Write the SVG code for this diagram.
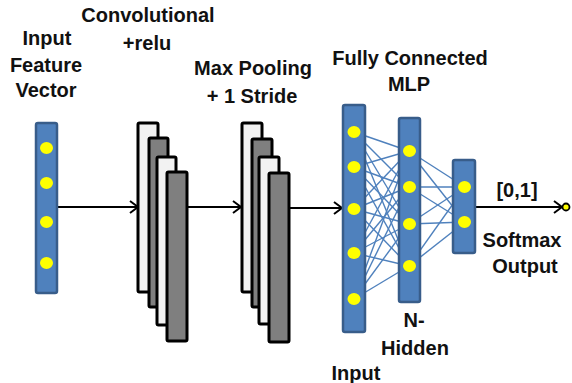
<svg xmlns="http://www.w3.org/2000/svg" width="572" height="383" viewBox="0 0 572 383">
<defs>
<style>
.t{font-family:"Liberation Sans",Arial,sans-serif;font-weight:bold;font-size:20px;fill:#111;text-anchor:middle}
.lt{fill:#f2f2f2;stroke:#000;stroke-width:3}
.dk{fill:#7f7f7f;stroke:#000;stroke-width:3}
.bar{fill:#4f81bd;stroke:#385d8a;stroke-width:2.5}
.dot{fill:#ffff00}
.w{stroke:#4f81bd;stroke-width:1.4;fill:none}
.ar{stroke:#000;stroke-width:2;fill:none}
</style>
<marker id="ah" markerUnits="userSpaceOnUse" markerWidth="14" markerHeight="16" refX="10" refY="8" orient="auto">
<path d="M2,2 L10,8 L2,14" fill="none" stroke="#000" stroke-width="2"/>
</marker>
</defs>
<rect width="572" height="383" fill="#fff"/>

<g id="labels">
<text class="t" x="47" y="45">Input</text>
<text class="t" x="46" y="72">Feature</text>
<text class="t" x="46" y="97">Vector</text>
<text class="t" x="148" y="22">Convolutional</text>
<text class="t" x="147" y="50">+relu</text>
<text class="t" x="253" y="75">Max Pooling</text>
<text class="t" x="252" y="103">+ 1 Stride</text>
<text class="t" x="410" y="65">Fully Connected</text>
<text class="t" x="409" y="91">MLP</text>
<text class="t" x="414" y="327">N-</text>
<text class="t" x="415" y="355">Hidden</text>
<text class="t" x="356" y="380">Input</text>
<text class="t" x="517" y="197">[0,1]</text>
<text class="t" x="522" y="247">Softmax</text>
<text class="t" x="525" y="273">Output</text>
</g>

<g id="connectors">
<line class="ar" x1="57" y1="207" x2="138" y2="207" marker-end="url(#ah)"/>
<line class="ar" x1="188" y1="207" x2="241" y2="207" marker-end="url(#ah)"/>
<line class="ar" x1="290" y1="208" x2="342" y2="208" marker-end="url(#ah)"/>
<line class="ar" x1="476" y1="207" x2="562" y2="207" marker-end="url(#ah)"/>
<g id="weights1">
<line class="w" x1="354" y1="132" x2="409" y2="151"/><line class="w" x1="354" y1="132" x2="409" y2="187"/><line class="w" x1="354" y1="132" x2="409" y2="224"/><line class="w" x1="354" y1="132" x2="409" y2="266"/>
<line class="w" x1="354" y1="167" x2="409" y2="151"/><line class="w" x1="354" y1="167" x2="409" y2="187"/><line class="w" x1="354" y1="167" x2="409" y2="224"/><line class="w" x1="354" y1="167" x2="409" y2="266"/>
<line class="w" x1="354" y1="209" x2="409" y2="151"/><line class="w" x1="354" y1="209" x2="409" y2="187"/><line class="w" x1="354" y1="209" x2="409" y2="224"/><line class="w" x1="354" y1="209" x2="409" y2="266"/>
<line class="w" x1="354" y1="253" x2="409" y2="151"/><line class="w" x1="354" y1="253" x2="409" y2="187"/><line class="w" x1="354" y1="253" x2="409" y2="224"/><line class="w" x1="354" y1="253" x2="409" y2="266"/>
<line class="w" x1="354" y1="299" x2="409" y2="151"/><line class="w" x1="354" y1="299" x2="409" y2="187"/><line class="w" x1="354" y1="299" x2="409" y2="224"/><line class="w" x1="354" y1="299" x2="409" y2="266"/>
</g>
<g id="weights2">
<line class="w" x1="409" y1="151" x2="465" y2="187"/><line class="w" x1="409" y1="151" x2="465" y2="222"/>
<line class="w" x1="409" y1="187" x2="465" y2="187"/><line class="w" x1="409" y1="187" x2="465" y2="222"/>
<line class="w" x1="409" y1="224" x2="465" y2="187"/><line class="w" x1="409" y1="224" x2="465" y2="222"/>
<line class="w" x1="409" y1="266" x2="465" y2="187"/><line class="w" x1="409" y1="266" x2="465" y2="222"/>
</g>
</g>

<g id="input-vector">
<rect class="bar" x="36" y="123" width="21" height="170" rx="2"/>
<ellipse class="dot" cx="46.5" cy="148" rx="6.5" ry="6"/>
<ellipse class="dot" cx="46.5" cy="183" rx="6.5" ry="6"/>
<ellipse class="dot" cx="46.5" cy="222" rx="6.5" ry="6"/>
<ellipse class="dot" cx="46.5" cy="263" rx="6.5" ry="6"/>
</g>

<g id="conv">
<rect class="lt" x="138" y="123" width="20" height="169" rx="1.5"/>
<rect class="dk" x="149" y="138" width="19" height="169" rx="1.5"/>
<rect class="lt" x="157" y="157" width="19" height="168" rx="1.5"/>
<rect class="dk" x="167" y="172" width="20" height="169" rx="1.5"/>
</g>

<g id="pool">
<rect class="lt" x="242" y="123" width="20" height="169" rx="1.5"/>
<rect class="dk" x="252" y="139" width="20" height="168" rx="1.5"/>
<rect class="lt" x="259" y="157" width="20" height="167" rx="1.5"/>
<rect class="dk" x="269" y="173" width="20" height="169" rx="1.5"/>
</g>

<g id="mlp-input">
<rect class="bar" x="343" y="105" width="22" height="227" rx="2"/>
<ellipse class="dot" cx="354" cy="132" rx="6.5" ry="6"/>
<ellipse class="dot" cx="354" cy="167" rx="6.5" ry="6"/>
<ellipse class="dot" cx="354" cy="209" rx="6.5" ry="6"/>
<ellipse class="dot" cx="354" cy="253" rx="6.5" ry="6"/>
<ellipse class="dot" cx="354" cy="299" rx="6.5" ry="6"/>
</g>

<g id="mlp-hidden">
<rect class="bar" x="399" y="118" width="21" height="184" rx="2"/>
<ellipse class="dot" cx="409.5" cy="151" rx="6.5" ry="6"/>
<ellipse class="dot" cx="409.5" cy="187" rx="6.5" ry="6"/>
<ellipse class="dot" cx="409.5" cy="224" rx="6.5" ry="6"/>
<ellipse class="dot" cx="409.5" cy="266" rx="6.5" ry="6"/>
</g>

<g id="mlp-output">
<rect class="bar" x="453" y="160" width="22" height="93" rx="2"/>
<ellipse class="dot" cx="464.5" cy="187" rx="6.5" ry="6"/>
<ellipse class="dot" cx="464.5" cy="222" rx="6.5" ry="6"/>
</g>

<g id="end">
<circle cx="566" cy="207" r="3.5" fill="#ffff00" stroke="#000" stroke-width="1.8"/>
</g>
</svg>
